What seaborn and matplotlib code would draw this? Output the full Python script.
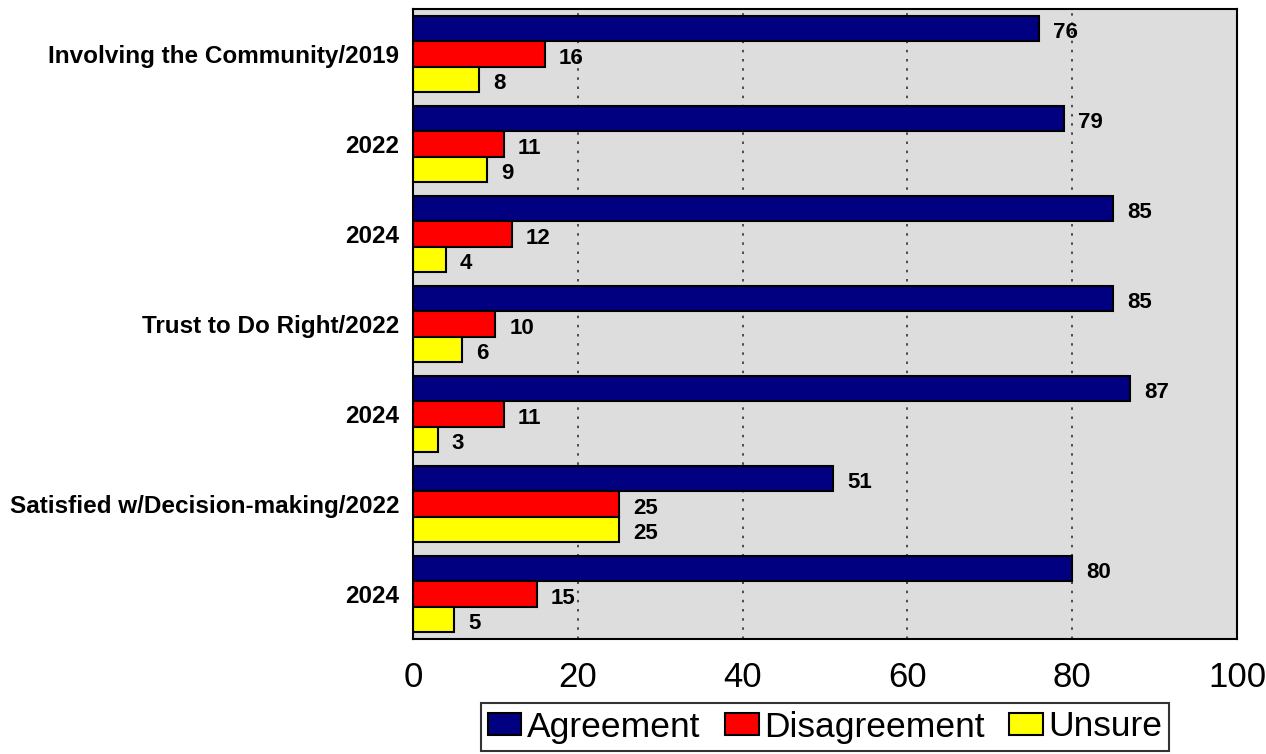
import pandas as pd
import numpy as np
import matplotlib.pyplot as plt
import seaborn as sns

# Data
groups = ["Involving the Community/2019", "2022", "2024",
          "Trust to Do Right/2022", "2024",
          "Satisfied w/Decision-making/2022", "2024"]
agreement = [76, 79, 85, 85, 87, 51, 80]
disagreement = [16, 11, 12, 10, 11, 25, 15]
unsure = [8, 9, 4, 6, 3, 25, 5]
series = ["Agreement", "Disagreement", "Unsure"]
colors = ["#000080", "#ff0000", "#ffff00"]

rows = []
for i in range(len(groups)):
    for s, vals in zip(series, [agreement, disagreement, unsure]):
        rows.append({"row": i, "series": s, "value": vals[i]})
df = pd.DataFrame(rows)

sns.set_style("white")
plt.rcParams['font.family'] = ['Liberation Sans', 'DejaVu Sans']
plt.rcParams['text.color'] = 'black'
plt.rcParams['xtick.color'] = 'black'
plt.rcParams['ytick.color'] = 'black'

fig = plt.figure(figsize=(12.66, 7.54), dpi=100)
ax = fig.add_axes([413/1266, 115/754, 824/1266, 630/754])

sns.barplot(data=df, x="value", y="row", hue="series", orient="h",
            palette=colors, width=0.85, gap=0, edgecolor="black",
            linewidth=1.5, saturation=1, errorbar=None, ax=ax)

ax.set_facecolor("#dddddd")
ax.set_xlim(0, 100)
ax.set_xticks([0, 20, 40, 60, 80, 100])
ax.set_xticklabels(["0", "20", "40", "60", "80", "100"], fontsize=25)
ax.set_yticks(range(len(groups)))
ax.set_yticklabels(groups, fontsize=17.5, fontweight="bold")
ax.tick_params(axis="x", length=0, pad=16)
ax.tick_params(axis="y", length=0, pad=10)
ax.set_xlabel("")
ax.set_ylabel("")

for x in [20, 40, 60, 80]:
    ax.axvline(x, color="#333333", linestyle=(0, (1.5, 4)), linewidth=1.2, zorder=0.5)

for sp in ax.spines.values():
    sp.set_visible(True)
    sp.set_color("black")
    sp.set_linewidth(1.5)

# value labels, a bit right of and slightly below the bar centre
for cont in ax.containers:
    for bar in cont:
        w = bar.get_width()
        yc = bar.get_y() + bar.get_height() / 2
        ax.annotate(f"{w:.0f}", (w, yc), xytext=(10, -3), textcoords="offset points",
                    ha="left", va="center", fontsize=16, fontweight="bold", color="black")

handles, labels = ax.get_legend_handles_labels()
ax.get_legend().remove()
leg = fig.legend(handles, labels, loc="center", bbox_to_anchor=(825/1266, 27/754),
                 ncol=3, fontsize=25.5, frameon=True, fancybox=False,
                 handlelength=0.95, handleheight=0.6, handletextpad=0.15,
                 columnspacing=0.7, borderpad=0.2, borderaxespad=0)
leg.get_frame().set_edgecolor("black")
leg.get_frame().set_linewidth(1.5)

fig.savefig("out.png", dpi=100)
